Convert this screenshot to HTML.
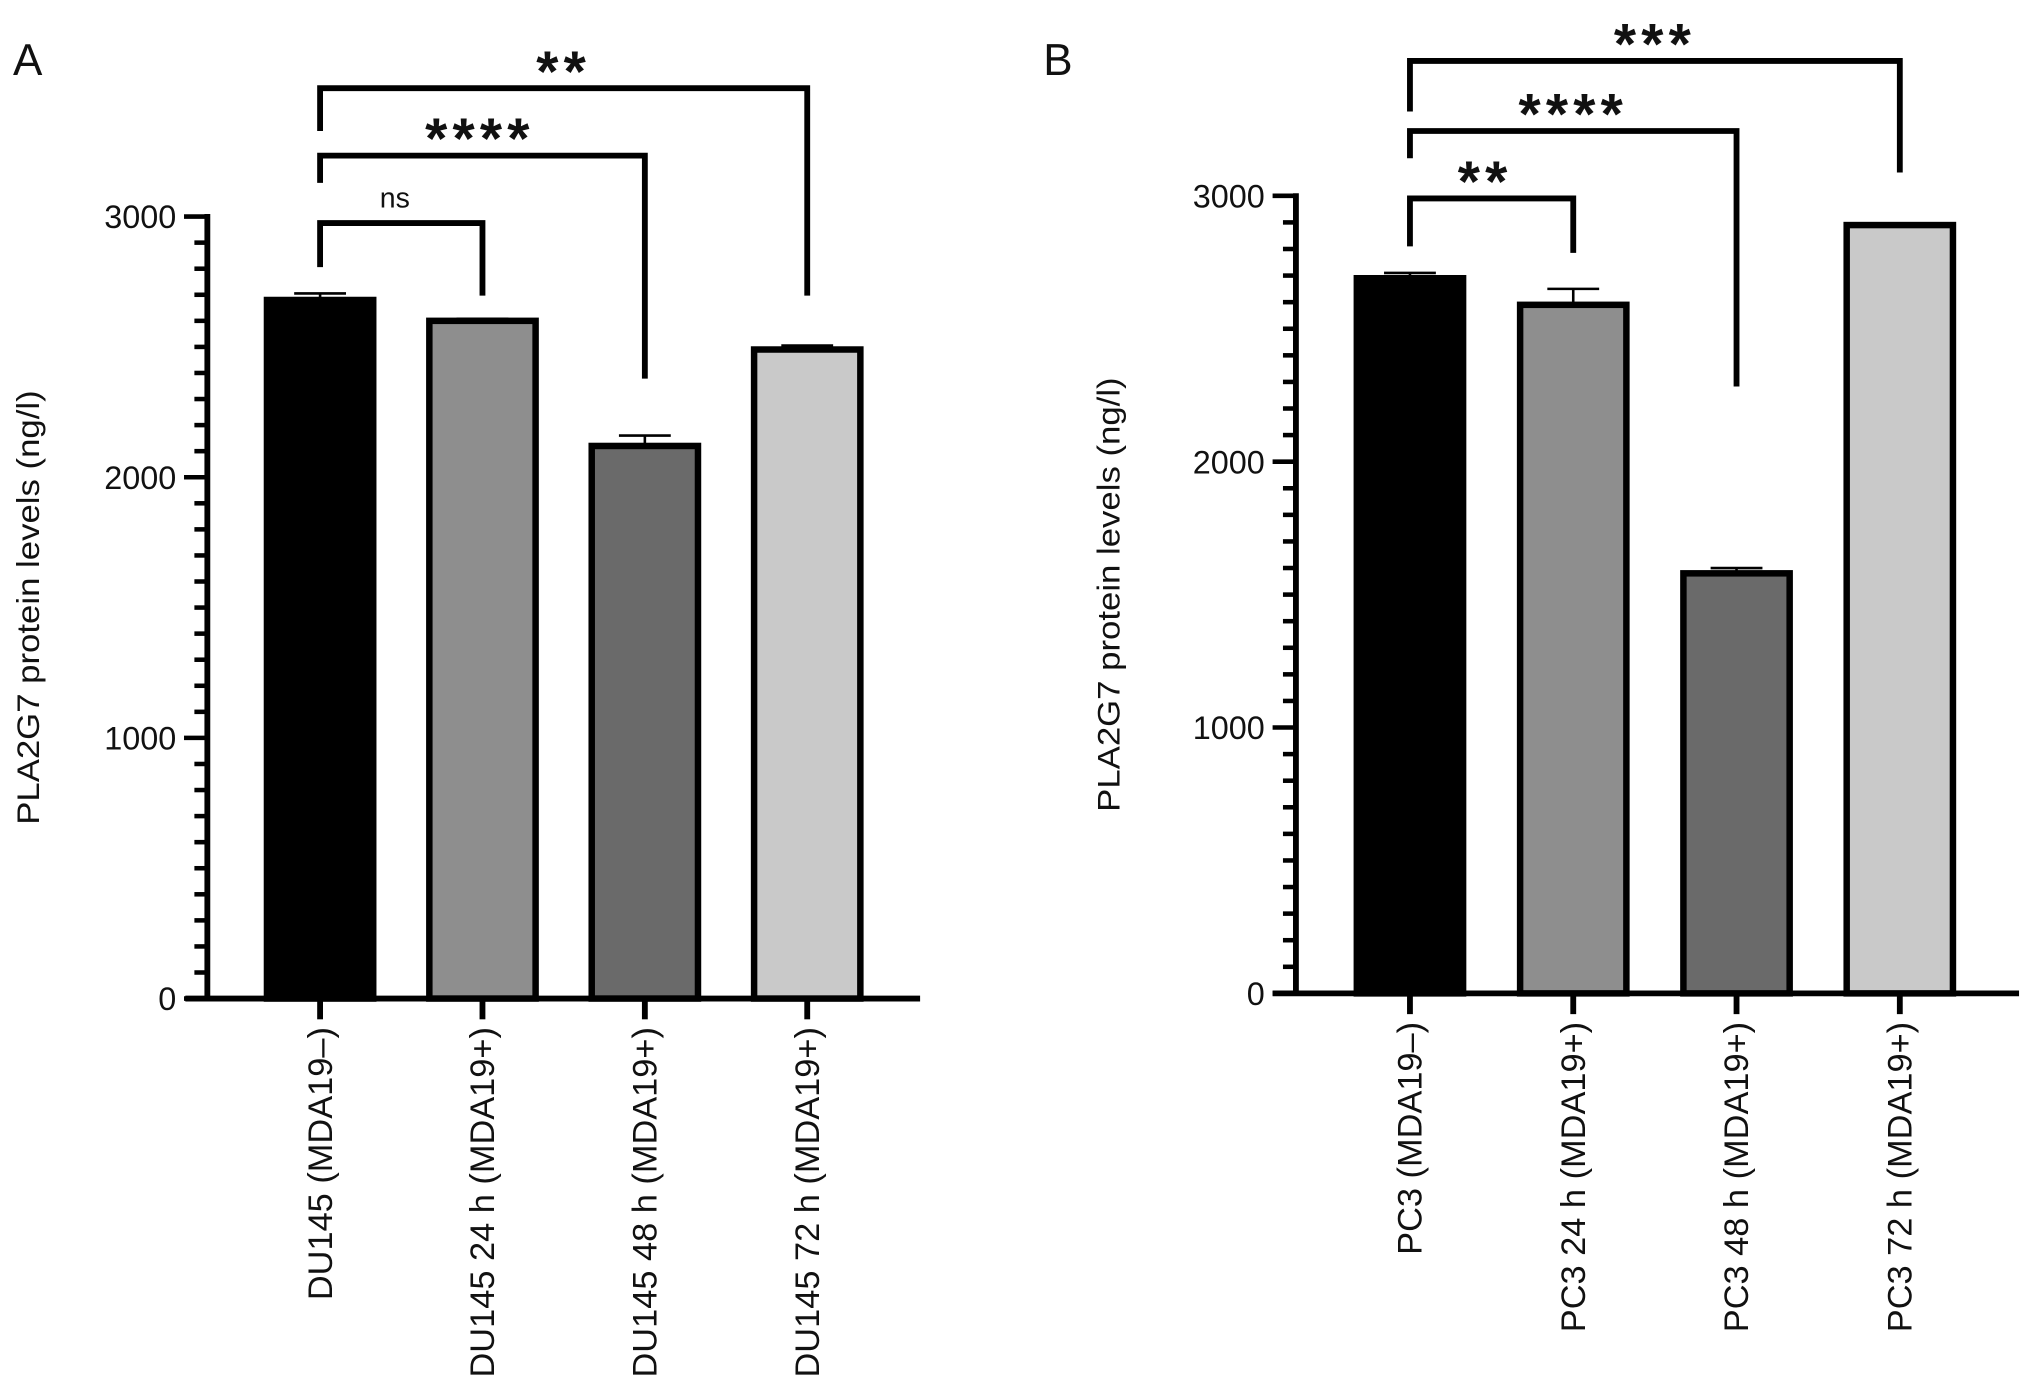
<!DOCTYPE html>
<html><head><meta charset="utf-8"><style>html,body{margin:0;padding:0;background:#fff}svg{display:block}text{font-family:"Liberation Sans",sans-serif;fill:#111}</style></head>
<body>
<svg id="chart" width="2032" height="1398" viewBox="0 0 1568 1078" preserveAspectRatio="none" xmlns="http://www.w3.org/2000/svg"></svg>
<script>
const categoriesA = ["DU145 (MDA19–)","DU145 24 h (MDA19+)","DU145 48 h (MDA19+)","DU145 72 h (MDA19+)"];
const valuesA = [2680, 2600, 2120, 2490];
const errorsA = [25, 8, 40, 15];
const categoriesB = ["PC3 (MDA19–)","PC3 24 h (MDA19+)","PC3 48 h (MDA19+)","PC3 72 h (MDA19+)"];
const valuesB = [2690, 2590, 1580, 2890];
const errorsB = [20, 60, 20, 5];
const yTicks = [0, 1000, 2000, 3000];
const fills = ["#000000","#8e8e8e","#6a6a6a","#c9c9c9"];
const sigA = ["ns","****","**"];
const sigB = ["**","****","***"];

const NS = "http://www.w3.org/2000/svg";
const svg = document.getElementById("chart");
function el(tag, attrs, parent){const e=document.createElementNS(NS,tag);for(const k in attrs)e.setAttribute(k,attrs[k]);(parent||svg).appendChild(e);return e;}

function panel(p){
  const g = el("g",{});
  
  
  const y = v => p.y0 - v*(p.y0-p.y3000)/3000;
  const x = i => p.x0 + i*p.step;
  const L = el("text",{x:p.letterX,y:58,"font-size":34},g); L.textContent=p.letter;
  
  
  for(let v=0; v<=3000; v+=100){
    const major = v%1000===0;
    el("line",{x1:p.ax-(major?18:10),x2:p.ax,y1:y(v),y2:y(v),stroke:"#000","stroke-width":3.5},g);
  }
  yTicks.forEach(v=>{
    const t=el("text",{x:p.ax-24,y:y(v)+9,"font-size":25,"text-anchor":"end"},g); t.textContent=v;
    
    
  });
  const ya=el("line",{x1:p.ax,x2:p.ax,y1:y(3000)-2,y2:p.y0+2,stroke:"#000","stroke-width":4.5},g);
  
  
  const xa=el("line",{x1:p.xStart,x2:p.xEnd,y1:p.y0,y2:p.y0,stroke:"#000","stroke-width":4.5},g);
  
  
  const yt=el("text",{transform:`translate(${p.titleX},${(y(3000)+p.y0)/2}) rotate(-90)`,"font-size":24,"text-anchor":"middle",textLength:335,lengthAdjust:"spacingAndGlyphs"},g);
  yt.textContent="PLA2G7 protein levels (ng/l)";
  
  
  const bw=82;
  p.vals.forEach((v,i)=>{
    const cx=x(i);
    const ev=el("line",{x1:cx,x2:cx,y1:y(v),y2:y(v+p.errs[i]),stroke:"#000","stroke-width":2},g);
    
    
    const eh=el("line",{x1:cx-20,x2:cx+20,y1:y(v+p.errs[i]),y2:y(v+p.errs[i]),stroke:"#000","stroke-width":2},g);
    
    
    const r=el("rect",{x:cx-bw/2,y:y(v),width:bw,height:p.y0-y(v),fill:fills[i],stroke:"#000","stroke-width":5},g);
    
    
    el("line",{x1:cx,x2:cx,y1:p.y0,y2:p.y0+16,stroke:"#000","stroke-width":4.5},g);
    const t=el("text",{transform:`translate(${cx+9},${p.y0+22}) rotate(-90)`,"font-size":26.5,"text-anchor":"end"},g);
    t.textContent=p.cats[i];
    
    
  });
  p.br.forEach((b,k)=>{
    const x1=x(0), x2=x(k+1);
    const pl=el("polyline",{points:`${x1},${b.l} ${x1},${b.y} ${x2},${b.y} ${x2},${b.r}`,fill:"none",stroke:"#000","stroke-width":4.5},g);
    
    
    const s=p.sig[k];
    const t=el("text",{x:(x1+x2)/2+b.dx,y:s==="ns"?b.y-12:b.y+2,"font-size":s==="ns"?22:44,"text-anchor":"middle","letter-spacing":s==="ns"?0:4,"font-weight":s==="ns"?"normal":"bold"},g);
    t.textContent=s;
    
    
  });
}
panel({name:"panel-a",letter:"A",letterX:10,ax:160,y0:770,y3000:167,x0:247,step:125.3,xStart:143,xEnd:710,titleX:30,
  vals:valuesA,errs:errorsA,cats:categoriesA,sig:sigA,
  br:[{y:172,l:206,r:228,dx:-5},{y:120,l:141,r:292,dx:-2},{y:68,l:101,r:228,dx:0}]});
panel({name:"panel-b",letter:"B",letterX:805,ax:1000,y0:766,y3000:151,x0:1088,step:126,xStart:982,xEnd:1558,titleX:864,
  vals:valuesB,errs:errorsB,cats:categoriesB,sig:sigB,
  br:[{y:153,l:190,r:195,dx:-5},{y:101,l:122,r:298,dx:0},{y:47,l:86,r:133,dx:0}]});
</script>
</body></html>
